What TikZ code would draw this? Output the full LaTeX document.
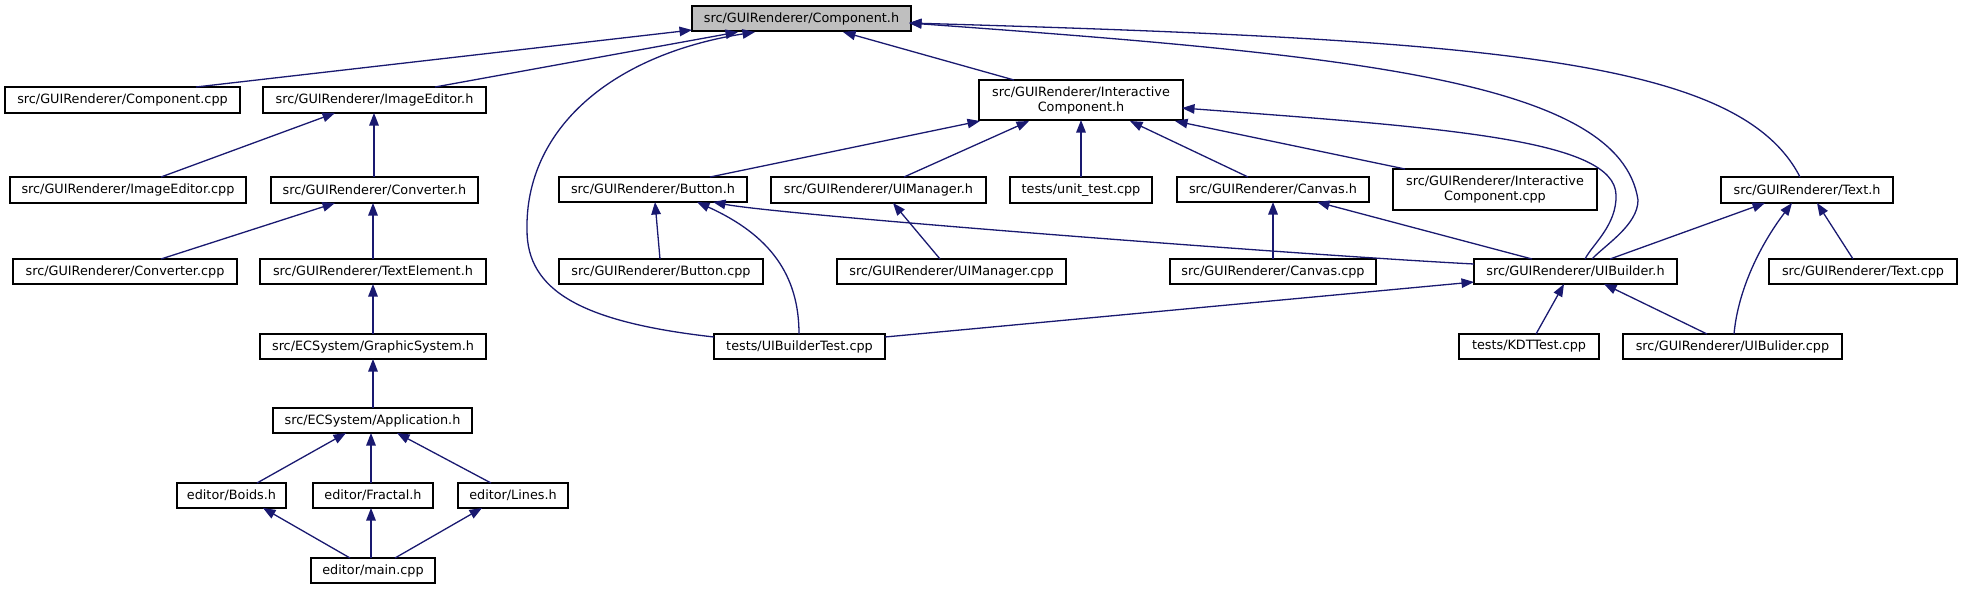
\documentclass[tikz,border=0pt]{standalone}
\usepackage{fontspec}
\setmainfont{DejaVu Sans}
\usetikzlibrary{arrows.meta,calc}
\definecolor{edgec}{HTML}{191970}
\definecolor{rootfill}{HTML}{BFBFBF}
\tikzset{
  fbox/.style={draw=black, line width=1.3pt, fill=white, inner sep=0pt, outer sep=0pt,
    anchor=north west, font=\fontsize{12.8}{15}\selectfont, align=center},
  dep/.style={draw=edgec, line width=1.3pt, {Triangle[length=12.5pt,width=9.5pt]}-},
}
\begin{document}
\begin{tikzpicture}[x=1pt,y=-1pt]
\useasboundingbox (0,0) rectangle (1961,589);
% nodes
\node[fbox, fill=rootfill, minimum width=219pt, minimum height=25pt] (comph) at (692,6) {src/GUIRenderer/Component.h};
\node[fbox, minimum width=235pt, minimum height=26pt] (compcpp) at (5,87) {src/GUIRenderer/Component.cpp};
\node[fbox, minimum width=223pt, minimum height=26pt] (imged) at (263,87) {src/GUIRenderer/ImageEditor.h};
\node[fbox, minimum width=236pt, minimum height=26pt] (imgedcpp) at (10,177) {src/GUIRenderer/ImageEditor.cpp};
\node[fbox, minimum width=207pt, minimum height=26pt] (convh) at (271,177) {src/GUIRenderer/Converter.h};
\node[fbox, minimum width=224pt, minimum height=25pt] (convcpp) at (13,259) {src/GUIRenderer/Converter.cpp};
\node[fbox, minimum width=226pt, minimum height=25pt] (textel) at (260,259) {src/GUIRenderer/TextElement.h};
\node[fbox, minimum width=226pt, minimum height=25pt] (graphsys) at (260,334) {src/ECSystem/GraphicSystem.h};
\node[fbox, minimum width=199pt, minimum height=25pt] (app) at (273,408) {src/ECSystem/Application.h};
\node[fbox, minimum width=109pt, minimum height=25pt] (boids) at (177,483) {editor/Boids.h};
\node[fbox, minimum width=120pt, minimum height=25pt] (fractal) at (313,483) {editor/Fractal.h};
\node[fbox, minimum width=110pt, minimum height=25pt] (lines) at (458,483) {editor/Lines.h};
\node[fbox, minimum width=124pt, minimum height=25pt] (mainc) at (311,558) {editor/main.cpp};
\node[fbox, minimum width=188pt, minimum height=25pt] (button) at (559,177) {src/GUIRenderer/Button.h};
\node[fbox, minimum width=204pt, minimum height=25pt] (buttoncpp) at (559,259) {src/GUIRenderer/Button.cpp};
\node[fbox, minimum width=215pt, minimum height=26pt] (uimgr) at (771,177) {src/GUIRenderer/UIManager.h};
\node[fbox, minimum width=229pt, minimum height=25pt] (uimgrcpp) at (837,259) {src/GUIRenderer/UIManager.cpp};
\node[fbox, minimum width=142pt, minimum height=26pt] (unittest) at (1010,177) {tests/unit\_test.cpp};
\node[fbox, minimum width=192pt, minimum height=25pt] (canvas) at (1177,177) {src/GUIRenderer/Canvas.h};
\node[fbox, minimum width=206pt, minimum height=25pt] (canvascpp) at (1170,259) {src/GUIRenderer/Canvas.cpp};
\node[fbox, minimum width=204pt, minimum height=40pt] (icomph) at (979,80) {src/GUIRenderer/Interactive\\Component.h};
\node[fbox, minimum width=204pt, minimum height=41pt] (icompcpp) at (1393,169) {src/GUIRenderer/Interactive\\Component.cpp};
\node[fbox, minimum width=171pt, minimum height=25pt] (uibtest) at (714,334) {tests/UIBuilderTest.cpp};
\node[fbox, minimum width=172pt, minimum height=26pt] (texth) at (1721,177) {src/GUIRenderer/Text.h};
\node[fbox, minimum width=203pt, minimum height=25pt] (uibh) at (1474,259) {src/GUIRenderer/UIBuilder.h};
\node[fbox, minimum width=188pt, minimum height=25pt] (textcpp) at (1769,259) {src/GUIRenderer/Text.cpp};
\node[fbox, minimum width=140pt, minimum height=25pt] (kdt) at (1459,334) {tests/KDTTest.cpp};
\node[fbox, minimum width=219pt, minimum height=25pt] (uibcpp) at (1623,334) {src/GUIRenderer/UIBulider.cpp};
% edges to Component.h
\draw[dep] ($(comph.north west)+(0,24)$) -- ($(compcpp.north west)+(191,0)$);
\draw[dep] ($(comph.north west)+(46,26)$) -- ($(imged.north west)+(172,0)$);
\draw[dep] ($(comph.north west)+(63,26)$) .. controls (610,55) and (525,130) .. (527,230)
  .. controls (527,290) and (580,322) .. ($(uibtest.north west)+(0,3)$);
\draw[dep] ($(comph.north west)+(151,26)$) -- ($(icomph.north west)+(35,0)$);
\draw[dep] ($(comph.north west)+(217,17)$) .. controls (1500,40) and (1740,60) .. ($(texth.north west)+(79,0)$);
\draw[dep] ($(comph.north west)+(217,17)$) .. controls (1350,55) and (1620,80) .. (1638,200)
  .. controls (1638,225) and (1605,245) .. ($(uibh.north west)+(118,0)$);
% edges to InteractiveComponent.h
\draw[dep] ($(icomph.north west)+(203,28)$) .. controls (1450,128) and (1615,140) .. (1616,195)
  .. controls (1617,225) and (1592,245) .. ($(uibh.north west)+(111,0)$);
\draw[dep] ($(icomph.north west)+(1,41)$) -- ($(button.north west)+(151,0)$);
\draw[dep] ($(icomph.north west)+(50,41)$) -- ($(uimgr.north west)+(133,0)$);
\draw[dep] ($(icomph.north west)+(102,40)$) -- ($(unittest.north west)+(71,0)$);
\draw[dep] ($(icomph.north west)+(151,41)$) -- ($(canvas.north west)+(71,0)$);
\draw[dep] ($(icomph.north west)+(196,41)$) -- ($(icompcpp.north west)+(12,0)$);
% left column
\draw[dep] ($(imged.north west)+(72,26)$) -- ($(imgedcpp.north west)+(151,0)$);
\draw[dep] ($(imged.north west)+(111,26)$) -- ($(convh.north west)+(103,0)$);
\draw[dep] ($(convh.north west)+(64,26)$) -- ($(convcpp.north west)+(148,0)$);
\draw[dep] ($(convh.north west)+(102,26)$) -- ($(textel.north west)+(113,0)$);
\draw[dep] ($(textel.north west)+(113,25)$) -- ($(graphsys.north west)+(113,0)$);
\draw[dep] ($(graphsys.north west)+(113,25)$) -- ($(app.north west)+(100,0)$);
\draw[dep] ($(app.north west)+(73,25)$) -- ($(boids.north west)+(80,0)$);
\draw[dep] ($(app.north west)+(98,25)$) -- ($(fractal.north west)+(58,0)$);
\draw[dep] ($(app.north west)+(124,25)$) -- ($(lines.north west)+(33,0)$);
\draw[dep] ($(boids.north west)+(86,25)$) -- ($(mainc.north west)+(39,0)$);
\draw[dep] ($(fractal.north west)+(58,25)$) -- ($(mainc.north west)+(60,0)$);
\draw[dep] ($(lines.north west)+(24,25)$) -- ($(mainc.north west)+(84,0)$);
% Button.h
\draw[dep] ($(button.north west)+(96,25)$) -- ($(buttoncpp.north west)+(101,0)$);
\draw[dep] ($(button.north west)+(138,25)$) .. controls (770,235) and (799,275) .. ($(uibtest.north west)+(85,0)$);
\draw[dep] ($(button.north west)+(154,25)$) .. controls (780,215) and (1300,255) .. ($(uibh.north west)+(0,5)$);
% UIManager.h, Canvas.h
\draw[dep] ($(uimgr.north west)+(122,26)$) -- ($(uimgrcpp.north west)+(103,0)$);
\draw[dep] ($(canvas.north west)+(96,25)$) -- ($(canvascpp.north west)+(103,0)$);
\draw[dep] ($(canvas.north west)+(140,25)$) -- ($(uibh.north west)+(58,0)$);
% Text.h
\draw[dep] ($(texth.north west)+(44,26)$) -- ($(uibh.north west)+(136,0)$);
\draw[dep] ($(texth.north west)+(71,26)$) .. controls (1760,245) and (1738,290) .. ($(uibcpp.north west)+(111,0)$);
\draw[dep] ($(texth.north west)+(96,26)$) -- ($(textcpp.north west)+(84,0)$);
% UIBuilder.h
\draw[dep] ($(uibh.north west)+(0,23)$) -- ($(uibtest.north west)+(171,3)$);
\draw[dep] ($(uibh.north west)+(90,25)$) -- ($(kdt.north west)+(77,0)$);
\draw[dep] ($(uibh.north west)+(130,25)$) -- ($(uibcpp.north west)+(84,0)$);
\end{tikzpicture}
\end{document}
